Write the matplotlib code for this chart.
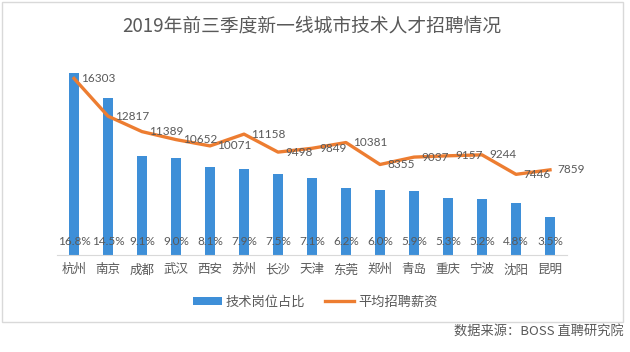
import matplotlib.pyplot as plt
from matplotlib.patches import Rectangle, Patch
from matplotlib.lines import Line2D

plt.rcParams['font.family'] = ['Noto Sans CJK SC', 'DejaVu Sans']

# data
cities = ['杭州', '南京', '成都', '武汉', '西安', '苏州', '长沙', '天津',
          '东莞', '郑州', '青岛', '重庆', '宁波', '沈阳', '昆明']
tech_share = [16.8, 14.5, 9.1, 9.0, 8.1, 7.9, 7.5, 7.1, 6.2, 6.0, 5.9, 5.3, 5.2, 4.8, 3.5]
avg_salary = [16303, 12817, 11389, 10652, 10071, 11158, 9498, 9849, 10381,
              8355, 9037, 9157, 9244, 7446, 7859]

W, H = 630, 352
blue = '#3E8FD8'
orange = '#ED7D31'
txt = '#595959'

fig = plt.figure(figsize=(W / 100, H / 100), dpi=100)
fig.patch.set_facecolor('white')

# outer chart border
fig.patches.append(Rectangle((2 / W, 1 - 322 / H), 621 / W, 320 / H,
                             transform=fig.transFigure, fill=False,
                             edgecolor='#D9D9D9', linewidth=1.0))

ax = fig.add_axes([57 / W, 1 - 255 / H, 510 / W, 195 / H])
x = list(range(len(cities)))

ax.bar(x, tech_share, width=0.32, color=blue, zorder=2)
ax.set_ylim(0, 18)
ax.set_xlim(-0.5, len(cities) - 0.5)
ax.set_xticks(x)
ax.set_xticklabels(cities, fontsize=9, color=txt)
ax.tick_params(axis='x', length=0, pad=6)
ax.set_yticks([])
for s in ['top', 'left', 'right']:
    ax.spines[s].set_visible(False)
ax.spines['bottom'].set_color('#D9D9D9')

# percentage labels sitting at the base of the bars
for xi, v in zip(x, tech_share):
    ax.annotate(f'{v:.1f}%', (xi, 0), xytext=(0, 6), textcoords='offset points',
                ha='center', va='bottom', fontsize=8.5, color=txt,
                family=['Lato', 'DejaVu Sans'], zorder=3)

ax2 = ax.twinx()
ax2.plot(x, avg_salary, color=orange, linewidth=2.4, zorder=3)
ax2.set_ylim(0, 18000)
ax2.set_yticks([])
for s in ['top', 'left', 'right', 'bottom']:
    ax2.spines[s].set_visible(False)

for xi, v in zip(x, avg_salary):
    ax2.annotate(f'{v}', (xi, v), xytext=(5, 0), textcoords='offset points',
                 ha='left', va='center', fontsize=8.5, color=txt,
                 family=['Lato', 'DejaVu Sans'])

fig.text(312 / W, 1 - 26 / H, '2019年前三季度新一线城市技术人才招聘情况',
         ha='center', va='center', fontsize=13.5, color=txt)

handles = [Patch(facecolor=blue, edgecolor='none'),
           Line2D([0], [0], color=orange, linewidth=2.4)]
fig.legend(handles, ['技术岗位占比', '平均招聘薪资'], loc='center',
           bbox_to_anchor=(315 / W, 1 - 302 / H), ncol=2, frameon=False,
           fontsize=9.5, labelcolor=txt, handlelength=2.2, handleheight=0.5,
           columnspacing=1.5, handletextpad=0.3)

fig.text(624 / W, 1 - 332 / H, '数据来源：BOSS 直聘研究院', ha='right', va='center',
         fontsize=9.5, color=txt)

fig.savefig('out.png', dpi=100)
